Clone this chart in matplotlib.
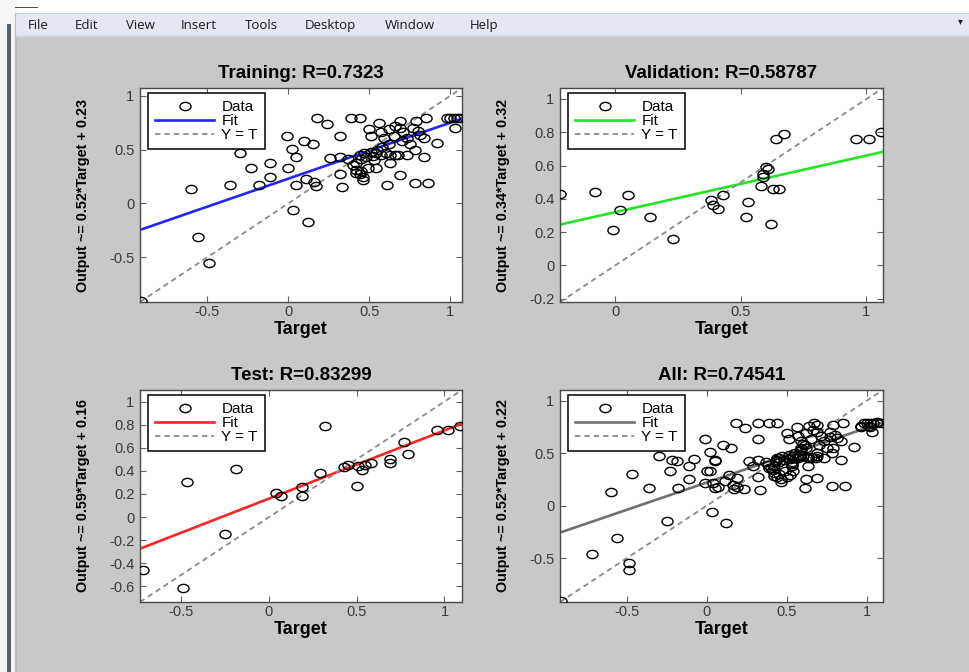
import matplotlib
matplotlib.use("Agg")
import matplotlib.pyplot as plt
from matplotlib.path import Path
from matplotlib.transforms import Affine2D
from matplotlib.patches import Rectangle
from matplotlib.ticker import FixedLocator, FuncFormatter

plt.rcParams['font.family'] = ['Liberation Sans', 'DejaVu Sans']

# training set: targets and network outputs
train_t = [-0.91, -0.49, -0.56, -0.60, -0.36, -0.30, -0.23, -0.18, -0.11, -0.11,
           -0.01, 0.02, 0.05, 0.00, 0.10, 0.15, 0.05, 0.03, 0.12, 0.11,
           0.16, 0.17, 0.18, 0.24, 0.32, 0.26, 0.32, 0.33, 0.39, 0.44,
           0.32, 0.37, 0.40, 0.42, 0.44, 0.46, 0.44, 0.47, 0.51, 0.54,
           0.57, 0.60, 0.63, 0.66, 0.50, 0.51, 0.56, 0.57, 0.59, 0.62,
           0.65, 0.69, 0.69, 0.71, 0.73, 0.77, 0.79, 0.81, 0.85, 0.84,
           0.78, 0.73, 0.68, 0.84, 0.92, 0.54, 0.63, 0.61, 0.69, 0.78,
           0.86, 0.46, 0.42, 0.45, 0.49, 0.98, 1.00, 1.02, 1.04, 1.06,
           1.03, 0.48, 0.52, 0.55, 0.58, 0.53, 0.62, 0.70, 0.75, 0.80,
           0.66, 0.42, 0.45]
train_y = [-0.91, -0.55, -0.31, 0.13, 0.17, 0.47, 0.33, 0.17, 0.38, 0.25,
           0.63, 0.51, 0.43, 0.33, 0.58, 0.55, 0.17, -0.06, -0.17, 0.23,
           0.20, 0.16, 0.79, 0.74, 0.63, 0.42, 0.27, 0.15, 0.79, 0.79,
           0.43, 0.41, 0.36, 0.31, 0.27, 0.22, 0.45, 0.47, 0.48, 0.47,
           0.45, 0.47, 0.45, 0.45, 0.69, 0.63, 0.75, 0.66, 0.61, 0.69,
           0.63, 0.77, 0.70, 0.66, 0.61, 0.70, 0.77, 0.64, 0.79, 0.61,
           0.50, 0.45, 0.45, 0.43, 0.56, 0.33, 0.38, 0.17, 0.26, 0.19,
           0.19, 0.25, 0.38, 0.41, 0.33, 0.79, 0.79, 0.79, 0.79, 0.79,
           0.70, 0.43, 0.44, 0.50, 0.52, 0.40, 0.55, 0.58, 0.55, 0.67,
           0.72, 0.28, 0.30]

# validation set
val_t = [-0.22, -0.08, -0.01, 0.02, 0.05, 0.14, 0.23, 0.38, 0.39, 0.41,
         0.43, 0.53, 0.52, 0.58, 0.59, 0.60, 0.61, 0.59, 0.63, 0.65,
         0.62, 0.64, 0.67, 0.96, 1.01, 1.06]
val_y = [0.43, 0.44, 0.21, 0.33, 0.42, 0.29, 0.16, 0.39, 0.36, 0.34,
         0.42, 0.38, 0.29, 0.48, 0.55, 0.59, 0.58, 0.53, 0.46, 0.46,
         0.25, 0.76, 0.79, 0.76, 0.76, 0.80]

# test set
test_t = [-0.72, -0.49, -0.47, -0.19, -0.25, 0.04, 0.07, 0.19, 0.19, 0.29,
          0.32, 0.43, 0.45, 0.50, 0.51, 0.53, 0.55, 0.58, 0.69, 0.69,
          0.77, 0.79, 0.96, 1.02, 1.09]
test_y = [-0.46, -0.61, 0.30, 0.42, -0.15, 0.21, 0.18, 0.26, 0.18, 0.38,
          0.79, 0.43, 0.45, 0.27, 0.44, 0.41, 0.45, 0.47, 0.50, 0.47,
          0.65, 0.55, 0.75, 0.75, 0.79]

all_t = train_t + val_t + test_t
all_y = train_y + val_y + test_y

names = ["Training", "Validation", "Test", "All"]
r_values = ["0.7323", "0.58787", "0.83299", "0.74541"]
slopes = [0.52, 0.34, 0.59, 0.52]
offsets = [0.23, 0.32, 0.16, 0.22]
fit_colors = ["#2424ff", "#22e622", "#ff2424", "#707070"]
limits = [(-0.915, 1.072), (-0.22, 1.066), (-0.735, 1.10), (-0.918, 1.10)]
xticks = [[-0.5, 0, 0.5, 1], [0, 0.5, 1], [-0.5, 0, 0.5, 1], [-0.5, 0, 0.5, 1]]
yticks = [[-0.5, 0, 0.5, 1], [-0.2, 0, 0.2, 0.4, 0.6, 0.8, 1],
          [-0.6, -0.4, -0.2, 0, 0.2, 0.4, 0.6, 0.8, 1], [-0.5, 0, 0.5, 1]]
datasets = [(train_t, train_y), (val_t, val_y), (test_t, test_y), (all_t, all_y)]

menu_items = ["File", "Edit", "View", "Insert", "Tools", "Desktop", "Window", "Help"]
menu_x = [28, 75, 126, 181, 245, 305, 385, 470]

W, H = 969, 672
fig = plt.figure(figsize=(W / 100, H / 100), dpi=100, facecolor="#c8c8c8")

def px_rect(x0, y0, x1, y1, color, z=0):
    fig.add_artist(Rectangle((x0 / W, 1 - y1 / H), (x1 - x0) / W, (y1 - y0) / H,
                             transform=fig.transFigure, facecolor=color,
                             edgecolor="none", zorder=z))

# window chrome
px_rect(0, 0, W, 13, "white")
px_rect(0, 0, 17, H, "#f4f5f7")
px_rect(7, 24, 11, H, "#55626f")
px_rect(15, 13, 16.5, H, "#b8bcc4")
px_rect(16, 13, W, 36, "#e4e8f3")
px_rect(16, 13, W, 14, "#c9ced8")
px_rect(16, 35, W, 36.5, "#d6dae2")
px_rect(15, 7, 38, 8.2, "#505050")
for label, x in zip(menu_items, menu_x):
    fig.text(x / W, 1 - 29 / H, label, fontsize=9.5, va="baseline", ha="left",
             color="#1a1a1a", family=["Open Sans", "DejaVu Sans"])
fig.text(960 / W, 1 - 21 / H, "\u25be", fontsize=7, ha="center", va="center",
         color="#202020", family="DejaVu Sans")

# elliptical ring marker for the data points
ring = Path.unit_circle().transformed(Affine2D().scale(1.35, 1.0))

# axes boxes in pixels: left, top, right, bottom
boxes = [(140, 88, 462, 302), (560, 88, 883, 302),
         (140, 390, 462, 602), (560, 390, 883, 602)]

fmt = FuncFormatter(lambda v, p: f"{v:g}")

for i, (x0, y0, x1, y1) in enumerate(boxes):
    ax = fig.add_axes([x0 / W, 1 - y1 / H, (x1 - x0) / W, (y1 - y0) / H])
    t, y = datasets[i]
    lo, hi = limits[i]
    ax.plot(t, y, linestyle="none", marker=ring, markersize=8.0,
            markerfacecolor="none", markeredgecolor="black",
            markeredgewidth=1.0, label="Data", zorder=3)
    ax.plot([lo, hi], [slopes[i] * lo + offsets[i], slopes[i] * hi + offsets[i]],
            color=fit_colors[i], linewidth=1.9, label="Fit", zorder=2)
    ax.plot([lo, hi], [lo, hi], color="#8a8a8a", linestyle=(0, (3, 2.2)),
            linewidth=1.3, label="Y = T", zorder=2)
    ax.set_xlim(lo, hi)
    ax.set_ylim(lo, hi)
    ax.xaxis.set_major_locator(FixedLocator(xticks[i]))
    ax.yaxis.set_major_locator(FixedLocator(yticks[i]))
    ax.xaxis.set_major_formatter(fmt)
    ax.yaxis.set_major_formatter(fmt)
    ax.tick_params(direction="in", length=4, width=0.8, color="#606060",
                   top=True, right=True, labelsize=10.5, labelcolor="#3a3a3a", pad=4)
    ax.tick_params(axis="x", pad=2.5)
    for sp in ax.spines.values():
        sp.set_color("#4a4a4a")
        sp.set_linewidth(1.0)

    h = y1 - y0
    w = x1 - x0
    ax.set_title(f"{names[i]}: R={r_values[i]}", fontsize=13.5, fontweight="bold",
                 y=1 + 15 / h, va="center", pad=0)
    ax.set_xlabel("Target", fontsize=13, fontweight="bold")
    ax.xaxis.label.set_va("center")
    ax.xaxis.set_label_coords(0.5, -28 / h)
    ax.set_ylabel(f"Output ~= {slopes[i]:g}*Target + {offsets[i]:g}",
                  fontsize=10.4, fontweight="bold")
    ax.yaxis.label.set_va("center")
    ax.yaxis.set_label_coords(-57 / w, 0.5)

    leg = ax.legend(loc="upper left", bbox_to_anchor=(8 / w, 1 - 5 / h),
                    borderaxespad=0, fontsize=11, handlelength=3.9,
                    handletextpad=0.45, labelspacing=0.02, borderpad=0.45,
                    fancybox=False, framealpha=1, edgecolor="black", numpoints=1)
    leg.get_frame().set_linewidth(1.1)

fig.savefig("out.png", dpi=100, facecolor=fig.get_facecolor())
